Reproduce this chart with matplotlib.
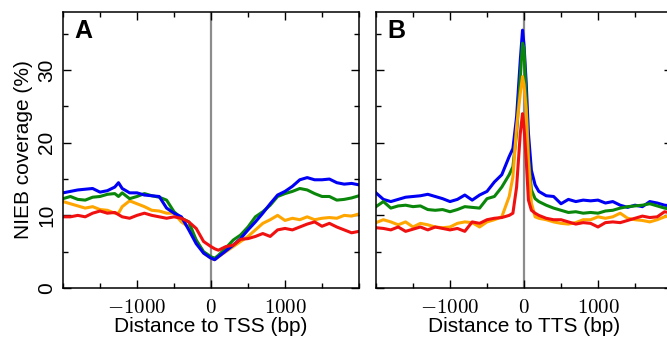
import numpy as np
import matplotlib
matplotlib.use('Agg')
import matplotlib.pyplot as plt
from matplotlib.ticker import MultipleLocator

# ---- panel A: distance to TSS ----
tss_pos = [-2000, -1900, -1800, -1700, -1600, -1500, -1400, -1300, -1250, -1200,
           -1100, -1000, -900, -800, -700, -600, -500, -400, -300, -200,
           -100, 0, 50, 100, 200, 300, 400, 500, 600, 700,
           800, 900, 1000, 1100, 1200, 1300, 1400, 1500, 1600, 1700,
           1800, 1900, 2000]
tss_blue = [13.1, 13.3, 13.5, 13.6, 13.7, 13.2, 13.4, 13.9, 14.5, 13.7,
            13.1, 13.1, 12.8, 12.7, 12.6, 11.0, 10.3, 9.8, 8.0, 6.1,
            4.8, 4.1, 3.9, 4.3, 5.1, 5.9, 6.8, 8.0, 9.1, 10.3,
            11.6, 12.8, 13.3, 14.0, 14.9, 15.2, 14.9, 14.9, 15.0, 14.5,
            14.3, 14.4, 14.2]
tss_green = [12.3, 12.6, 12.2, 12.1, 12.5, 12.6, 12.9, 13.0, 12.6, 13.1,
             12.3, 12.6, 13.0, 12.7, 12.5, 12.1, 10.5, 9.6, 9.1, 6.6,
             5.0, 4.3, 4.1, 4.5, 5.5, 6.6, 7.3, 8.4, 9.8, 10.5,
             11.4, 12.6, 13.0, 13.3, 13.7, 13.5, 13.0, 12.6, 12.6, 12.1,
             12.2, 12.4, 12.7]
tss_orange = [11.9, 11.6, 11.3, 11.0, 11.2, 10.8, 10.7, 10.3, 10.3, 11.2,
              12.0, 11.6, 11.2, 10.7, 10.6, 10.3, 10.3, 9.1, 8.4, 6.6,
              4.8, 4.1, 3.9, 4.3, 5.0, 5.7, 6.4, 7.1, 8.0, 8.9,
              9.4, 10.0, 9.3, 9.6, 9.4, 9.8, 9.4, 9.6, 9.7, 9.6,
              10.0, 9.9, 10.2]
tss_red = [9.8, 9.8, 10.0, 9.8, 10.3, 10.6, 10.3, 10.4, 10.1, 9.8,
           9.6, 10.0, 10.3, 10.0, 9.8, 9.6, 9.8, 9.6, 9.1, 8.2,
           6.4, 5.7, 5.4, 5.2, 5.7, 5.9, 6.7, 6.8, 7.1, 7.5,
           7.1, 8.0, 8.2, 8.0, 8.4, 8.8, 9.1, 8.5, 8.9, 8.4,
           8.0, 7.6, 7.8]

# ---- panel B: distance to TTS ----
tts_pos = [-2000, -1900, -1800, -1700, -1600, -1500, -1400, -1300, -1200, -1100,
           -1000, -900, -800, -700, -600, -500, -400, -300, -200, -150,
           -100, -50, -20, 0, 30, 60, 100, 150, 200, 300,
           400, 500, 600, 700, 800, 900, 1000, 1100, 1200, 1300,
           1400, 1500, 1600, 1700, 1800, 1900, 2000]
tts_blue = [13.1, 12.2, 11.9, 12.2, 12.5, 12.6, 12.7, 12.9, 12.6, 12.3,
            11.9, 12.2, 12.8, 12.1, 12.8, 13.3, 14.6, 15.6, 18.1, 19.2,
            23.6, 31.4, 35.5, 33.5, 28.2, 21.3, 16.2, 14.2, 13.3, 12.7,
            12.6, 11.6, 12.2, 11.9, 12.1, 12.0, 12.1, 11.7, 11.9, 11.4,
            11.1, 11.4, 11.2, 11.9, 11.7, 11.4, 11.3]
tts_green = [11.2, 11.9, 11.0, 11.3, 11.4, 11.2, 11.3, 10.8, 10.7, 10.8,
             10.5, 10.8, 11.2, 11.1, 11.0, 12.3, 12.6, 13.9, 15.6, 16.7,
             21.3, 29.1, 33.7, 33.0, 25.9, 18.1, 13.5, 12.3, 11.9, 11.4,
             11.0, 10.7, 10.4, 10.5, 10.3, 10.4, 10.3, 10.6, 10.7, 11.0,
             11.2, 11.3, 11.4, 11.6, 11.3, 11.0, 10.8]
tts_orange = [9.0, 9.4, 9.1, 8.7, 9.1, 8.4, 8.9, 8.7, 8.4, 8.3,
              8.4, 8.9, 9.1, 9.0, 8.4, 9.1, 9.4, 9.8, 12.6, 15.3,
              22.2, 26.8, 29.1, 28.0, 24.5, 17.6, 11.7, 9.8, 9.6, 9.4,
              9.1, 8.9, 8.8, 9.0, 9.4, 9.4, 9.8, 9.6, 9.8, 10.3,
              9.6, 9.4, 9.3, 9.1, 9.4, 9.8, 10.0]
tts_red = [8.3, 8.2, 8.0, 8.4, 7.8, 8.1, 8.4, 8.0, 8.4, 8.2,
           8.0, 8.2, 7.8, 9.1, 8.9, 9.4, 9.6, 9.7, 10.0, 10.3,
           13.9, 21.3, 24.0, 22.2, 17.6, 12.1, 10.7, 10.3, 10.0, 9.6,
           9.4, 9.4, 9.1, 8.8, 9.0, 8.9, 8.4, 9.0, 9.1, 9.0,
           9.3, 9.6, 9.9, 9.7, 9.8, 10.5, 10.3]

xtick_vals = [-1000, 0, 1000]
xtick_text = [r'$-1000$', r'$0$', r'$1000$']
ytick_vals = [0, 10, 20, 30]

colors = {'red': '#f01010', 'orange': '#ffa500', 'green': '#0a870a', 'blue': '#0000f5'}

plt.rcParams['font.family'] = ['Liberation Sans', 'DejaVu Sans']
plt.rcParams['mathtext.fontset'] = 'cm'

fig = plt.figure(figsize=(6.67, 3.39), dpi=100)
ax_a = fig.add_axes([63 / 667, 51 / 339, 296 / 667, 276 / 339])
ax_b = fig.add_axes([376 / 667, 51 / 339, 296 / 667, 276 / 339])

panels = [
    (ax_a, tss_pos, [tss_orange, tss_green, tss_blue, tss_red], 'A', 'Distance to TSS (bp)'),
    (ax_b, tts_pos, [tts_blue, tts_green, tts_orange, tts_red], 'B', 'Distance to TTS (bp)'),
]
order_a = ['orange', 'green', 'blue', 'red']
order_b = ['blue', 'green', 'orange', 'red']

for i, (ax, pos, series, letter, xlabel) in enumerate(panels):
    order = order_a if i == 0 else order_b
    ax.axvline(0, color='#8c8c8c', lw=1.6, zorder=1)
    for name, vals in zip(order, series):
        ax.plot(pos, vals, color=colors[name], lw=2.2, zorder=2)

    ax.set_xlim(-2000, 2000)
    ax.set_ylim(0, 38)
    ax.xaxis.set_minor_locator(MultipleLocator(500))
    ax.yaxis.set_minor_locator(MultipleLocator(5))
    ax.tick_params(which='both', direction='in', top=True, right=True, width=1.0)
    ax.tick_params(which='major', length=6)
    ax.tick_params(which='minor', length=3.5)
    ax.tick_params(axis='x', pad=7)
    ax.tick_params(axis='y', pad=5)
    for s in ax.spines.values():
        s.set_linewidth(1.1)

    ax.set_xticks(xtick_vals)
    ax.set_xticklabels(xtick_text, fontsize=15)
    ax.set_xlabel(xlabel, fontsize=15, labelpad=0)
    ax.text(0.04, 0.906, letter, transform=ax.transAxes, fontsize=18,
            fontweight='bold', va='baseline', ha='left')

    ax.set_yticks(ytick_vals)
    if i == 0:
        ax.set_yticklabels([str(v) for v in ytick_vals], rotation=90, va='center', fontsize=15)
        ax.set_ylabel('NIEB coverage (%)', fontsize=15, labelpad=3)
    else:
        ax.set_yticklabels([])

fig.savefig('out.png', dpi=100)
